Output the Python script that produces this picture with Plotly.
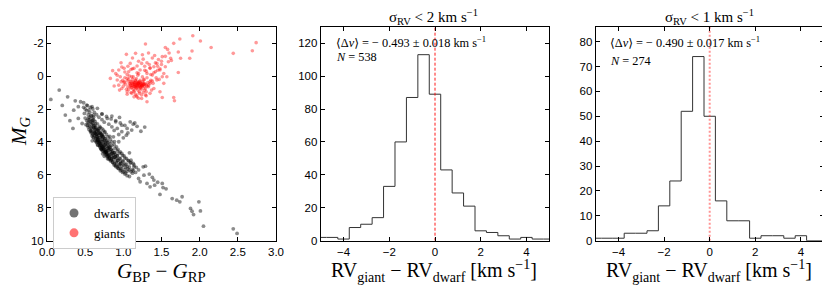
import plotly.graph_objects as go

# ---------------- data ----------------
dwarf_color = [
    0.05, 0.16, 0.20, 0.27, 0.24, 0.34, 0.30, 0.37, 0.44, 0.48, 0.41, 0.35, 0.52, 0.59, 0.66, 0.49, 0.41, 0.46,
    0.55, 0.61, 0.72, 0.79, 0.85, 0.90, 0.95, 0.98, 1.05, 1.09, 1.13, 1.11, 1.04, 0.98, 0.92, 0.85, 0.81, 0.74,
    0.87, 0.94, 1.08, 1.10, 1.13, 1.14, 1.26, 1.29, 1.27, 1.20, 1.31, 1.40, 1.41, 1.51, 1.52, 1.48, 1.35, 1.22,
    1.64, 1.77, 1.70, 1.74, 1.88, 1.90, 1.92, 1.99, 2.01, 2.05, 2.44, 2.49,
    0.50, 0.52, 0.54, 0.55, 0.57, 0.58, 0.56, 0.60, 0.61, 0.59, 0.62, 0.63, 0.64, 0.62, 0.65, 0.66, 0.67, 0.68,
    0.66, 0.69, 0.70, 0.71, 0.72, 0.70, 0.73, 0.74, 0.75, 0.73, 0.76, 0.77, 0.78, 0.76, 0.79, 0.80, 0.81, 0.82,
    0.83, 0.84, 0.85, 0.86, 0.87, 0.88, 0.89, 0.90, 0.91, 0.92, 0.93, 0.95, 0.96, 0.97, 0.99, 1.00, 1.02, 1.03,
    1.05, 1.06, 1.08, 1.10, 1.12, 1.13,
    0.53, 0.55, 0.58, 0.60, 0.61, 0.63, 0.65, 0.67, 0.69, 0.71, 0.73, 0.75, 0.77, 0.79, 0.81, 0.83, 0.86, 0.88,
    0.90, 0.93, 0.96, 0.99, 1.02, 1.05, 1.08,
    0.60, 0.63, 0.66, 0.69, 0.72, 0.75, 0.78, 0.80, 0.83, 0.85, 0.88, 0.91, 0.93, 0.96, 0.98, 1.01, 1.04, 1.07,
    1.10, 1.14, 1.17, 1.20,
    0.64, 0.66, 0.68, 0.70, 0.72, 0.74, 0.76, 0.78, 0.80, 0.82, 0.84, 0.68, 0.70, 0.72, 0.74, 0.76, 0.78, 0.80,
    0.62, 0.64, 0.66, 0.57, 0.59, 0.61, 0.58, 0.54, 0.56, 0.52, 0.50, 0.48, 0.53, 0.57, 0.60, 0.55, 0.62, 0.65,
    0.68, 0.72, 0.75,
    0.63, 0.65, 0.67, 0.69, 0.71, 0.73, 0.75, 0.77, 0.79, 0.81, 0.66, 0.68, 0.70, 0.72, 0.74, 0.76, 0.78, 0.80,
    0.82, 0.84, 0.86, 0.88, 0.90, 0.92, 0.94, 0.97, 1.00, 1.03,
    0.51, 0.54, 0.57, 0.59, 0.62, 0.64, 0.67, 0.69, 0.71, 0.74, 0.77, 0.79, 0.82, 0.85, 0.87, 0.91, 0.94, 0.97,
    0.56, 0.59, 0.61, 0.64, 0.67, 0.70, 0.73, 0.76, 0.79, 0.82, 0.85, 0.89, 0.92, 0.95, 0.99, 1.02, 1.06, 1.09,
    0.58, 0.62, 0.65, 0.69, 0.73, 0.77, 0.81, 0.84, 0.88, 0.92, 0.96, 1.00, 1.04, 1.08, 1.12, 1.16,
    0.72, 0.78, 0.84, 0.90, 0.96, 1.02, 1.06, 0.88, 0.94, 1.00, 1.15, 1.18, 1.23, 1.28, 1.34, 1.38, 1.45, 1.56,
    0.537, 0.583, 0.611, 0.648, 0.593, 0.672, 0.703, 0.621, 0.689, 0.744, 0.718, 0.772, 0.659, 0.806, 0.751, 0.837,
    0.793, 0.874, 0.828, 0.906, 0.861, 0.947, 0.893, 0.981, 0.925, 1.014, 0.962, 1.047, 0.574, 0.636, 0.697, 0.761,
    0.823, 0.884, 0.715, 0.781, 0.846, 0.605, 0.663, 0.729,
]
dwarf_mag = [
    1.42, 0.85, 1.78, 1.26, 2.37, 3.18, 2.71, 1.50, 1.56, 1.62, 1.86, 2.07, 1.76, 1.86, 1.96, 2.27, 2.57, 2.88,
    2.51, 2.37, 2.31, 2.57, 2.43, 2.78, 2.51, 2.98, 3.18, 2.78, 2.92, 3.28, 3.59, 3.38, 3.18, 3.08, 2.92, 3.28,
    3.69, 3.99, 4.66, 5.11, 5.31, 5.51, 5.51, 5.47, 6.02, 6.22, 6.52, 6.32, 6.63, 6.52, 6.77, 7.19, 6.73, 6.42,
    7.44, 7.33, 7.54, 7.64, 8.04, 8.21, 8.41, 7.64, 8.19, 9.12, 9.28, 9.56,
    2.55, 2.70, 2.62, 2.85, 2.75, 2.95, 3.05, 2.88, 3.10, 3.20, 3.00, 3.25, 3.15, 3.40, 3.35, 3.50, 3.30, 3.60,
    3.70, 3.45, 3.75, 3.55, 3.85, 3.95, 3.70, 4.00, 3.90, 4.10, 4.15, 4.05, 4.25, 4.35, 4.40, 4.20, 4.50, 4.35,
    4.60, 4.45, 4.70, 4.55, 4.80, 4.65, 4.90, 4.75, 5.00, 4.85, 5.10, 5.00, 5.20, 5.30, 5.15, 5.40, 5.35, 5.55,
    5.50, 5.65, 5.70, 5.80, 5.90, 5.75,
    3.00, 3.25, 3.45, 3.55, 3.75, 3.90, 4.05, 4.20, 4.30, 4.45, 4.55, 4.65, 4.80, 4.90, 5.05, 5.15, 5.25, 5.40,
    5.50, 5.60, 5.75, 5.85, 5.95, 6.05, 6.10,
    2.60, 2.75, 2.90, 3.05, 3.20, 3.40, 3.55, 3.70, 3.85, 4.00, 4.15, 4.30, 4.45, 4.60, 4.70, 4.85, 5.00, 5.15,
    5.25, 5.40, 5.55, 5.70,
    3.55, 3.80, 3.95, 4.10, 4.25, 4.40, 4.50, 4.70, 4.80, 4.95, 5.05, 3.20, 3.40, 3.55, 3.70, 3.80, 3.95, 4.05,
    3.60, 3.80, 4.00, 3.30, 2.70, 2.50, 2.40, 2.35, 2.20, 2.10, 2.00, 1.90, 1.80, 1.90, 2.00, 2.05, 2.20, 2.35,
    2.50, 2.65, 2.80,
    3.45, 3.65, 3.85, 4.00, 4.15, 4.30, 4.45, 4.60, 4.70, 4.85, 3.90, 4.05, 4.20, 4.35, 4.50, 4.62, 4.75, 4.88,
    5.00, 5.12, 5.22, 5.32, 5.42, 5.52, 5.62, 5.70, 5.80, 5.88,
    2.95, 3.10, 3.38, 3.62, 3.48, 3.98, 3.88, 4.22, 4.40, 4.30, 4.62, 4.52, 4.78, 4.98, 5.08, 5.28, 5.45, 5.62,
    2.65, 2.82, 3.02, 3.12, 3.28, 3.48, 3.62, 3.78, 3.92, 4.08, 4.22, 4.38, 4.55, 4.68, 4.82, 4.98, 5.12, 5.28,
    3.15, 3.35, 3.52, 3.72, 3.92, 4.12, 4.30, 4.48, 4.65, 4.82, 5.00, 5.18, 5.35, 5.52, 5.68, 5.85,
    2.30, 2.45, 2.60, 2.70, 2.85, 3.00, 3.45, 3.30, 3.55, 3.75, 2.85, 3.05, 3.35, 3.10, 5.95, 6.15, 6.45, 6.85,
    2.83, 3.37, 2.69, 3.71, 3.93, 3.48, 4.37, 3.16, 4.06, 4.21, 3.64, 4.58, 3.27, 4.41, 4.87, 4.73, 5.02, 4.94,
    4.29, 5.21, 4.66, 5.37, 4.93, 5.49, 5.13, 5.68, 5.31, 5.79, 2.44, 2.91, 3.13, 3.39, 3.67, 3.98, 4.48, 4.62,
    4.88, 3.71, 4.18, 4.72,
]

giant_color = [
    1.29, 1.66, 1.74, 1.91, 2.01, 2.15, 2.44, 2.69, 2.74, 1.55, 1.58, 1.72, 1.90, 1.87, 1.75, 1.72, 1.66, 1.67,
    1.51, 1.48, 0.83, 0.86, 0.90, 0.97, 1.04, 1.16, 1.26, 1.18, 1.31, 1.40, 1.46, 1.51, 1.62, 1.55, 1.57, 1.53,
    1.44, 1.40, 1.35, 1.31, 1.24, 1.18, 1.11, 1.05, 0.98, 0.94, 1.01, 0.96, 1.07, 1.14, 1.22, 1.31, 1.38, 1.27,
    1.20, 1.14, 1.09, 1.05, 1.11, 1.16, 1.18, 1.22, 1.28, 1.33, 1.35, 1.42, 1.48, 1.44, 1.35, 1.24, 1.09, 1.01,
    0.94, 0.92, 1.00, 1.07, 1.14, 1.21, 1.14, 1.29, 1.39, 1.51, 1.59, 1.53,
    1.05, 1.08, 1.10, 1.12, 1.14, 1.15, 1.16, 1.18, 1.19, 1.20, 1.21, 1.22, 1.23, 1.24, 1.25, 1.26, 1.27, 1.28,
    1.30, 1.32, 1.11, 1.13, 1.17, 1.09, 1.07, 1.12, 1.17, 1.22, 1.27, 1.03, 1.01, 0.99, 1.06, 1.14, 1.19, 1.24,
    1.29, 1.33, 1.35, 1.36, 1.31, 1.25, 1.19, 1.13, 1.08, 1.02, 0.97, 1.10, 1.16, 1.21, 1.26, 1.15, 1.19, 1.23,
    1.17, 1.21, 1.13, 1.25, 1.18, 1.22, 1.16,
    1.30, 1.35, 1.40, 1.42, 1.45, 1.48, 1.50, 1.55, 1.60, 1.63, 1.38, 1.28, 1.20, 1.12, 1.25, 1.33, 1.18, 1.10,
    1.05, 0.98, 1.43, 1.47, 1.37, 1.30, 1.20, 1.05, 0.95, 0.88, 0.92,
    1.12, 1.16, 1.20, 1.24, 1.28, 1.14, 1.18, 1.22, 1.26, 1.10, 1.15, 1.19, 1.23, 1.27, 1.31, 1.09, 1.13, 1.17,
    1.21, 1.25,
    1.02, 1.06, 1.12, 1.20, 1.28, 1.34, 1.38, 1.04, 1.10, 1.17, 1.24, 1.30, 1.36, 1.41, 1.45, 1.50,
]
giant_mag = [
    -1.95, -1.99, -2.25, -2.45, -2.13, -1.74, -1.38, -1.54, -2.03, -1.74, -1.62, -1.46, -1.52, -1.08, -1.08, -0.22, 1.30, 1.50,
    1.30, 0.95, 0.14, -0.33, -0.16, -0.81, -1.32, -1.38, -1.03, -0.61, -0.81, -0.57, -1.01, -1.18, -1.08, -0.57, 0.04, 0.44,
    0.24, 0.75, 1.05, 1.56, 1.36, 1.26, 1.05, 0.95, 0.75, 0.55, 0.34, 0.04, -0.26, -0.47, -0.37, -0.16, -0.06, 0.24,
    0.44, 0.65, 0.34, 0.14, 0.04, 0.24, 0.55, 0.75, 0.85, 0.55, 0.34, -0.26, -0.37, -0.77, -0.47, -0.77, -0.77, -0.47,
    -0.37, 0.24, 0.61, 0.81, 0.95, 1.05, 1.26, 1.15, 0.44, 0.04, -0.87, -0.16,
    0.30, 0.45, 0.35, 0.55, 0.40, 0.60, 0.30, 0.50, 0.65, 0.40, 0.55, 0.70, 0.45, 0.60, 0.35, 0.50, 0.65, 0.45,
    0.55, 0.40, 0.70, 0.80, 0.75, 0.60, 0.20, 0.20, 0.15, 0.25, 0.20, 0.50, 0.40, 0.25, 0.65, 0.90, 0.85, 0.80,
    0.75, 0.65, 0.45, 0.25, 0.10, 0.05, -0.05, 0.05, 0.00, 0.10, 0.35, 1.00, 1.10, 0.95, 1.00, 0.48, 0.42, 0.52,
    0.58, 0.62, 0.50, 0.58, 0.35, 0.38, 0.68,
    -0.30, -0.50, -0.20, -0.80, -0.60, -0.45, -0.90, -1.20, -1.40, -0.95, -1.10, -0.60, -0.90, -1.10, -1.30, -1.40, -0.20, -0.40,
    -0.10, -0.55, 0.10, 0.20, 0.85, 1.20, 1.35, 1.10, 0.85, 0.60, -0.05,
    0.45, 0.52, 0.47, 0.57, 0.50, 0.62, 0.44, 0.66, 0.42, 0.55, 0.39, 0.59, 0.49, 0.53, 0.61, 0.48, 0.36, 0.71,
    0.33, 0.64,
    -0.25, -0.60, -0.45, -0.15, -0.35, -0.70, 0.30, 0.80, 0.70, 1.20, 1.15, 0.95, -0.10, -1.25, -0.35, -0.70,
]

bin_edges = [-5.25, -4.75, -4.25, -3.75, -3.25, -2.75, -2.25, -1.75, -1.25, -0.75, -0.25,
             0.25, 0.75, 1.25, 1.75, 2.25, 2.75, 3.25, 3.75, 4.25, 4.75, 5.25]
counts_2 = [2, 2, 1, 8, 10, 14, 33, 60, 87, 113, 89, 43, 29, 21, 6, 5, 3, 1, 2, 1, 1]
counts_1 = [1, 1, 1, 3, 3, 4, 14, 24, 52, 74, 50, 16, 8, 8, 1, 2, 2, 1, 2, 0, 0]

x_ticks_cmd = [0.0, 0.5, 1.0, 1.5, 2.0, 2.5, 3.0]
y_ticks_cmd = [-2, 0, 2, 4, 6, 8, 10]
y_ticklabels_cmd = ["-2", "0", "2", "4", "6", "8", "10"]
x_ticks_hist = [-4, -2, 0, 2, 4]

title_2 = "σ<sub>RV</sub> < 2 km s<sup>−1</sup>"
title_1 = "σ<sub>RV</sub> < 1 km s<sup>−1</sup>"
stat_2 = ["⟨Δ<i>v</i>⟩ = − 0.493 ± 0.018 km s<sup>−1</sup>", "<i>N</i> = 538"]
stat_1 = ["⟨Δ<i>v</i>⟩ = − 0.490 ± 0.017 km s<sup>−1</sup>", "<i>N</i> = 274"]

# ---------------- figure ----------------
SERIF = "Liberation Serif, DejaVu Serif, serif"
SANS = "Liberation Sans, Arial, sans-serif"
W, H = 830, 293
OX, OY = 8, 8   # page body margin offset (screen px -> figure px)

def fx(px):
    return (px - OX) / W

def fy(py):
    return 1 - (py - OY) / H

ytop, ybot = 26.7, 240.7
doms = [(47, 276), (320.7, 549.3), (595.7, 823.7)]

fig = go.Figure()

fig.add_trace(go.Scatter(x=dwarf_color, y=dwarf_mag, mode="markers", showlegend=False,
                         marker=dict(size=3.8, color="rgba(0,0,0,0.45)", line=dict(width=0)),
                         xaxis="x", yaxis="y"))
fig.add_trace(go.Scatter(x=giant_color, y=giant_mag, mode="markers", showlegend=False,
                         marker=dict(size=3.6, color="rgba(255,0,0,0.40)", line=dict(width=0)),
                         xaxis="x", yaxis="y"))
fig.add_trace(go.Scatter(x=[None], y=[None], mode="markers", name="dwarfs",
                         marker=dict(size=9, color="rgba(0,0,0,0.55)", line=dict(width=0)),
                         xaxis="x", yaxis="y"))
fig.add_trace(go.Scatter(x=[None], y=[None], mode="markers", name="giants",
                         marker=dict(size=9, color="rgba(255,0,0,0.55)", line=dict(width=0)),
                         xaxis="x", yaxis="y"))

def step_xy(edges, counts):
    n = len(counts)
    xs = [edges[0]] + edges[:n] + [edges[n], edges[n]]
    ys = [0] + counts + [counts[-1], 0]
    return xs, ys

for counts, xa, ya in [(counts_2, "x2", "y2"), (counts_1, "x3", "y3")]:
    xs, ys = step_xy(bin_edges, counts)
    fig.add_trace(go.Scatter(x=xs, y=ys, mode="lines", line=dict(shape="hv", color="#333333", width=1),
                             showlegend=False, xaxis=xa, yaxis=ya))

fig.add_trace(go.Scatter(x=[0, 0], y=[0, 130], mode="lines", showlegend=False,
                         line=dict(color="red", width=0.9, dash="3px,2px"), xaxis="x2", yaxis="y2"))
fig.add_trace(go.Scatter(x=[0, 0], y=[0, 86], mode="lines", showlegend=False,
                         line=dict(color="rgba(255,60,60,0.55)", width=2, dash="2px,2px"), xaxis="x3", yaxis="y3"))

axis_common = dict(showline=True, linecolor="black", linewidth=1, mirror="allticks", ticks="inside",
                   ticklen=4, tickwidth=1, tickcolor="black", showgrid=False, zeroline=False,
                   tickfont=dict(family=SANS, size=11.5, color="black"))

fig.update_layout(
    width=W, height=H, margin=dict(l=0, r=0, t=0, b=0, autoexpand=False),
    paper_bgcolor="white", plot_bgcolor="white",
    xaxis=dict(domain=[fx(doms[0][0]), fx(doms[0][1])], range=[0, 3], tickvals=x_ticks_cmd,
               tickformat=".1f", anchor="y", **axis_common),
    yaxis=dict(domain=[fy(ybot), fy(ytop)], range=[10, -3], tickvals=y_ticks_cmd,
               ticktext=y_ticklabels_cmd, anchor="x", **axis_common),
    xaxis2=dict(domain=[fx(doms[1][0]), fx(doms[1][1])], range=[-5, 5], tickvals=x_ticks_hist,
                anchor="y2", **axis_common),
    yaxis2=dict(domain=[fy(ybot), fy(ytop)], range=[0, 130], dtick=20, anchor="x2", **axis_common),
    xaxis3=dict(domain=[fx(doms[2][0]), fx(doms[2][1])], range=[-5, 5], tickvals=x_ticks_hist,
                anchor="y3", **axis_common),
    yaxis3=dict(domain=[fy(ybot), fy(ytop)], range=[0, 86], dtick=10, anchor="x3", **axis_common),
    legend=dict(x=fx(53), y=fy(197), xanchor="left", yanchor="top", bgcolor="white",
                bordercolor="#cccccc", borderwidth=1, font=dict(family=SERIF, size=13, color="black"),
                itemwidth=30, tracegroupgap=2),
    showlegend=True,
)

def A(x, y, text, size, xanchor="center", angle=0):
    return dict(x=fx(x), y=fy(y), xref="paper", yref="paper", text=text, textangle=angle,
                xanchor=xanchor, yanchor="middle", showarrow=False,
                font=dict(family=SERIF, size=size, color="black"))

xt = "RV<sub>giant</sub> − RV<sub>dwarf</sub> [km s<sup>−1</sup>]"
ann = [
    A(20, 131, "<i>M<sub>G</sub></i>", 21, angle=-90),
    A(161, 272, "<i>G</i><sub>BP</sub> − <i>G</i><sub>RP</sub>", 21),
    A(434, 271, xt, 20),
    A(709, 271, xt, 20),
    A(434, 17, title_2, 15),
    A(709, 17, title_1, 15),
]
for (s, x0, y1, y2) in [(stat_2, 334, 42, 57), (stat_1, 608, 42, 61)]:
    ann.append(A(x0, y1, s[0], 12.3, xanchor="left"))
    ann.append(A(x0, y2, s[1], 12.3, xanchor="left"))
fig.update_layout(annotations=ann)

fig.write_html("out.html")
